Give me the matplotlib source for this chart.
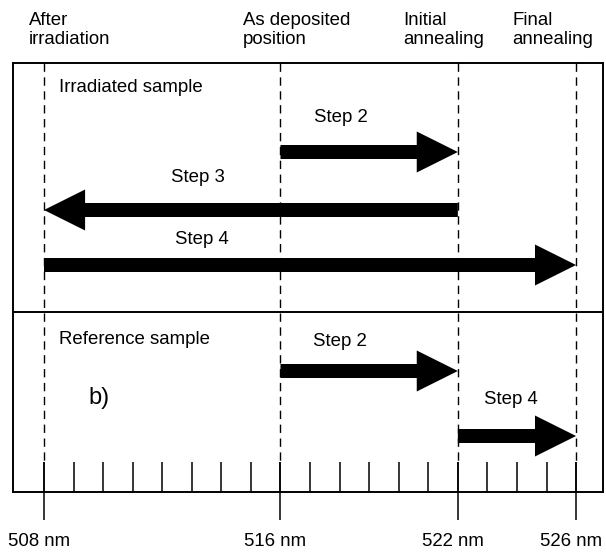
"""Schematic of the peak-position shifts (irradiated vs reference sample)."""

import matplotlib
matplotlib.use("Agg")
import matplotlib.pyplot as plt
import matplotlib.transforms as mtransforms
import numpy as np

plt.rcParams.update({
    "font.family": ["Liberation Sans", "DejaVu Sans"],
    "font.size": 13.4,
})

# Reference positions (nm) and their names
POSITIONS = [508, 516, 522, 526]
POS_NAMES = ["After\nirradiation", "As deposited\nposition",
             "Initial\nannealing", "Final\nannealing"]
TICK_LABELS = ["508 nm", "516 nm", "522 nm", "526 nm"]
MINOR_TICKS = list(range(508, 527))

# Steps: (label, start nm, end nm)
IRRADIATED_STEPS = [("Step 2", 516, 522), ("Step 3", 522, 508), ("Step 4", 508, 526)]
REFERENCE_STEPS = [("Step 2", 516, 522), ("Step 4", 522, 526)]

# layout (y in pixels from the top, x in nm)
NAME_X = [507.5, 514.73, 520.15, 523.85]
IRR_ARROW_Y = [152, 210, 265]
IRR_LABEL = [(518.05, 117), (513.2, 178), (513.35, 240)]
REF_ARROW_Y = [371, 436]
REF_LABEL = [(518.0, 342), (523.8, 400)]

W, H = 606, 552
fig = plt.figure(figsize=(W / 100, H / 100), dpi=100)
box_l, box_r, box_t, box_b = 13, 603, 63, 492
ax = fig.add_axes([box_l / W, 1 - box_b / H, (box_r - box_l) / W, (box_b - box_t) / H])
px_per_nm = 29.56
ax.set_xlim(508 - (44 - box_l) / px_per_nm, 508 + (box_r - 44) / px_per_nm)
ax.set_ylim(box_b, box_t)
ax.set_xticks([])
ax.set_yticks([])
for s in ax.spines.values():
    s.set_linewidth(1.4)

# divider between the two samples
ax.axhline(312, color="black", lw=1.4)

# dashed guide lines and scale ticks
ax.vlines(POSITIONS, box_t, 462, colors="black", lw=1.0, linestyles=(0, (6, 4)))
ax.vlines(MINOR_TICKS, 462, box_b, colors="black", lw=1.1)
ax.vlines(POSITIONS, 462, 520, colors="black", lw=1.1, clip_on=False)

lab_tr = mtransforms.offset_copy(ax.transData, fig=fig, x=-5, y=0, units="dots")
for p, lab in zip(POSITIONS, TICK_LABELS):
    ax.text(p, 541, lab, ha="center", va="center", transform=lab_tr, clip_on=False)

for x, name in zip(NAME_X, POS_NAMES):
    ax.text(x, 12, name, ha="left", va="top", linespacing=1.15, clip_on=False)


def draw_steps(steps, arrow_y, label_xy):
    for (lab, a, b), y, (lx, ly) in zip(steps, arrow_y, label_xy):
        ax.arrow(a, y, b - a, 0, width=14, head_width=41, head_length=1.39,
                 length_includes_head=True, color="black", lw=0)
        ax.text(lx, ly, lab, ha="center", va="center")


draw_steps(IRRADIATED_STEPS, IRR_ARROW_Y, IRR_LABEL)
draw_steps(REFERENCE_STEPS, REF_ARROW_Y, REF_LABEL)

ax.text(508.5, 88, "Irradiated sample", ha="left", va="center")
ax.text(508.5, 340, "Reference sample", ha="left", va="center")
ax.text(509.5, 398, "b)", ha="left", va="center", fontsize=17)

fig.savefig("out.png", dpi=100)
